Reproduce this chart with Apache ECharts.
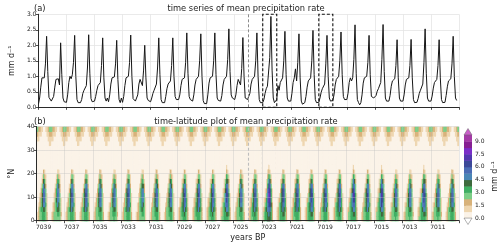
<!DOCTYPE html>
<html><head><meta charset="utf-8">
<script src="https://cdn.jsdelivr.net/npm/echarts@6/dist/echarts.min.js"></script>
<style>html,body{margin:0;padding:0;background:#fff}#c{width:500px;height:249px}</style>
</head><body><div id="c"></div>
<script>
// ---------------- data ----------------
const yearLabels = ['7039','7037','7035','7033','7031','7029','7027','7025','7023','7021','7019','7017','7015','7013','7011'];
const yearLabelPos = [0.5,2.5,4.5,6.5,8.5,10.5,12.5,14.5,16.5,18.5,20.5,22.5,24.5,26.5,28.5];
// monthly mean precipitation (mm/d), one row per model year (left to right)
const monthlyPrecip = [
 [0.10,0.30,0.65,0.95,1.00,0.95,1.40,2.29,1.15,0.32,0.26,0.20],
 [0.20,0.35,0.65,0.90,0.95,0.92,0.72,2.08,1.05,0.30,0.18,0.15],
 [0.16,0.40,0.80,1.00,0.92,1.05,1.45,2.32,1.00,0.25,0.15,0.14],
 [0.15,0.25,0.45,0.55,0.58,0.70,1.30,2.34,1.10,0.28,0.18,0.16],
 [0.20,0.35,0.55,0.70,0.72,0.80,1.35,2.24,0.95,0.30,0.20,0.30],
 [0.18,0.40,0.75,0.95,0.92,0.98,1.40,2.16,0.90,0.25,0.15,0.30],
 [0.16,0.35,0.70,0.95,0.96,1.00,1.45,2.33,1.00,0.28,0.22,0.20],
 [0.20,0.40,0.75,0.90,0.92,0.70,1.20,2.00,0.95,0.30,0.22,0.20],
 [0.18,0.30,0.45,0.55,0.58,0.75,1.30,2.24,1.05,0.25,0.15,0.15],
 [0.15,0.35,0.60,0.75,0.78,0.85,1.35,2.24,1.00,0.35,0.25,0.25],
 [0.25,0.40,0.70,0.90,0.92,0.95,1.45,2.40,1.10,0.35,0.25,0.22],
 [0.20,0.40,0.72,0.90,0.92,1.00,1.50,2.37,1.00,0.22,0.12,0.10],
 [0.12,0.40,0.78,0.95,0.96,1.00,1.50,2.40,1.05,0.30,0.22,0.20],
 [0.20,0.38,0.72,0.90,0.92,1.00,1.55,2.53,1.15,0.40,0.30,0.28],
 [0.25,0.40,0.70,0.90,0.88,0.72,1.25,2.25,1.00,0.30,0.25,0.25],
 [0.25,0.45,0.75,0.90,0.92,1.00,1.50,2.40,1.00,0.25,0.15,0.15],
 [0.15,0.25,0.45,0.60,0.68,0.70,1.60,2.93,1.20,0.30,0.15,0.14],
 [0.25,0.70,0.55,0.80,0.85,0.95,1.50,2.45,1.05,0.30,0.20,0.20],
 [0.20,0.45,0.80,0.95,1.24,0.85,1.45,2.37,0.95,0.20,0.10,0.10],
 [0.15,0.35,0.65,0.85,0.88,0.95,1.50,2.48,1.05,0.25,0.15,0.15],
 [0.16,0.30,0.48,0.60,0.62,0.75,1.40,2.32,1.00,0.30,0.20,0.20],
 [0.22,0.40,0.72,0.90,0.92,1.00,1.50,2.43,1.05,0.35,0.25,0.25],
 [0.25,0.45,0.80,0.95,0.85,0.95,1.55,2.66,1.10,0.25,0.15,0.08],
 [0.15,0.40,0.78,0.95,0.96,1.00,1.45,2.32,1.05,0.35,0.30,0.30],
 [0.28,0.38,0.52,0.60,0.62,0.80,1.55,2.67,1.15,0.30,0.20,0.20],
 [0.20,0.38,0.68,0.85,0.86,0.92,1.35,2.18,0.95,0.30,0.20,0.20],
 [0.20,0.40,0.72,0.90,0.92,0.95,1.35,2.19,0.95,0.25,0.15,0.15],
 [0.16,0.28,0.45,0.55,0.58,0.75,1.45,2.53,1.10,0.30,0.20,0.20],
 [0.20,0.36,0.62,0.80,0.82,0.90,1.35,2.18,0.95,0.25,0.15,0.15],
 [0.16,0.38,0.66,0.85,0.86,0.92,1.40,2.29,1.00,0.30,0.22,0.20]
];
// latitude bands (°N) and their mean seasonal cycle of precipitation (mm/d), Jan..Dec
const latEdges = [0,2,4,6,8,10,12,14,16,18,20,22,24,26,28,30,32,34,36,38,40];
const latClim = [
 [0.45,1.1,2.1,2.6,2.9,3.1,3.3,3.2,2.7,1.6,0.55,0.3],
 [0.4,0.95,2.0,2.6,3.0,3.3,3.7,3.6,2.8,1.7,0.55,0.3],
 [0.3,0.75,1.6,2.5,3.1,3.8,4.6,4.3,3.0,1.5,0.45,0.3],
 [0.2,0.45,1.1,2.2,3.0,4.2,5.3,5.0,3.1,1.3,0.35,0.2],
 [0.2,0.3,0.75,1.6,2.7,4.3,5.8,5.5,3.0,1.0,0.3,0.2],
 [0.1,0.2,0.45,1.1,2.3,4.2,6.1,5.7,2.8,0.8,0.2,0.1],
 [0.1,0.2,0.3,0.7,1.8,3.8,5.8,5.3,2.5,0.65,0.2,0.1],
 [0.1,0.1,0.2,0.45,1.2,3.0,5.1,4.6,2.0,0.5,0.1,0.1],
 [0.1,0.1,0.2,0.3,0.75,2.1,4.0,3.5,1.4,0.4,0.1,0.1],
 [0.1,0.1,0.1,0.2,0.45,1.3,2.8,2.3,0.85,0.3,0.1,0.1],
 [0.1,0.1,0.1,0.2,0.3,0.65,1.6,1.1,0.45,0.2,0.1,0.1],
 [0.2,0.2,0.2,0.2,0.2,0.4,0.7,0.5,0.3,0.2,0.2,0.2],
 [0.3,0.3,0.3,0.25,0.2,0.2,0.3,0.3,0.25,0.25,0.3,0.3],
 [0.35,0.35,0.3,0.3,0.25,0.2,0.2,0.2,0.25,0.3,0.35,0.35],
 [0.45,0.4,0.35,0.3,0.25,0.2,0.2,0.2,0.25,0.3,0.4,0.45],
 [0.6,0.55,0.45,0.35,0.3,0.2,0.2,0.2,0.25,0.35,0.5,0.6],
 [0.8,0.7,0.55,0.4,0.3,0.25,0.2,0.2,0.3,0.4,0.6,0.8],
 [1.3,1.1,0.9,0.7,0.5,0.35,0.3,0.3,0.35,0.55,0.9,1.2],
 [2.0,1.8,1.4,1.1,0.8,0.55,0.4,0.4,0.55,0.85,1.4,1.9],
 [2.6,2.4,1.9,1.5,1.1,0.8,0.55,0.55,0.75,1.1,1.8,2.4]
];
const tropicRows = 12;          // rows whose intensity follows the yearly monsoon peak
const referencePeak = 2.35;     // typical peak of the mean series
const levels = [0,0.75,1.5,2.25,3.0,3.75,4.5,5.25,6.0,6.75,7.5,8.25,9.0,9.75];
const levelColors = ['#fbf3e8','#eed6b0','#d8b27a','#7ccd86','#3fae62','#3e6a3d','#4a86b6','#4b6cb4','#3b4898','#5237ae','#7a2ec8','#861f92','#a33aa6'];
const underColor = '#ffffff';
const overColor = '#c95ec9';
const cbTickValues = [0,1.5,3.0,4.5,6.0,7.5,9.0];
const boxYears = [[16,17],[20,21]];
const refLineYear = 15;

// ---------------- build ----------------
const FONT = 'DejaVu Sans';
function levelColor(v){
  if (v < levels[0]) return underColor;
  for (let i = 0; i < levels.length - 1; i++) if (v < levels[i+1]) return levelColors[i];
  return overColor;
}
const lineData = [];
monthlyPrecip.forEach((row, y) => row.forEach((v, m) => lineData.push([y + m/12, v])));
const cellData = [];
monthlyPrecip.forEach((row, y) => {
  const peak = Math.max.apply(null, row);
  for (let m = 0; m < 12; m++) {
    for (let r = 0; r < latClim.length; r++) {
      const f = r < tropicRows ? peak / referencePeak : 1;
      cellData.push([y + (m - 0.5)/12, y + (m + 0.5)/12, latEdges[r], latEdges[r+1], latClim[r][m] * f]);
    }
  }
});
const cbData = [];
for (let i = 0; i < levels.length - 1; i++) cbData.push([levels[i], levels[i+1], 0, levelColors[i]]);
cbData.push([levels[levels.length-1], levels[levels.length-1] + 0.75, 1, overColor]);
cbData.push([levels[0] - 0.75, levels[0], 2, underColor]);

const chart = echarts.init(document.getElementById('c'), null, {renderer: 'canvas'});
const tickFont = {fontSize: 6, color: '#222', fontFamily: FONT};
const gridLineC = '#e4e4e4';
function frameAxes(gi, isX){
  return {gridIndex: gi, type: 'value', position: isX ? 'top' : 'right', min: 0, max: isX ? 30 : (gi === 0 ? 3 : 40),
    axisLine: {show: true, lineStyle: {color: '#222', width: 0.8}}, axisTick: {show: false}, axisLabel: {show: false}, splitLine: {show: false}, z: 6};
}
const option = {
  animation: false,
  textStyle: {fontFamily: FONT},
  grid: [
    {left: 33, right: 41, top: 14.3, height: 93},
    {left: 33, right: 41, top: 126.7, height: 94},
    {left: 464, width: 8.5, top: 128.5, bottom: 24.5}
  ],
  xAxis: [
    {gridIndex: 0, type: 'value', min: 0, max: 30, interval: 2,
      axisLine: {show: true, onZero: false, lineStyle: {color: '#222', width: 0.8}},
      axisTick: {length: 2.5, lineStyle: {color: '#222', width: 0.8}}, axisLabel: {show: false},
      splitLine: {show: true, lineStyle: {color: gridLineC, width: 0.8}}},
    {gridIndex: 1, type: 'value', min: 0, max: 30, interval: 2, z: 5,
      axisLine: {show: true, onZero: false, lineStyle: {color: '#222', width: 0.8}},
      axisTick: {length: 2.5, lineStyle: {color: '#222', width: 0.8}},
      axisLabel: Object.assign({customValues: yearLabelPos, margin: 4,
        formatter: v => yearLabels[yearLabelPos.indexOf(v)] || ''}, tickFont),
      splitLine: {show: true, lineStyle: {color: 'rgba(190,190,190,0.45)', width: 0.8}},
      name: 'years BP', nameLocation: 'middle', nameGap: 13, nameTextStyle: {fontSize: 8, color: '#222', fontFamily: FONT}},
    {gridIndex: 2, type: 'value', min: 0, max: 1, show: false},
    frameAxes(0, true), frameAxes(1, true)
  ],
  yAxis: [
    {gridIndex: 0, type: 'value', min: 0, max: 3, interval: 0.5,
      axisLine: {show: true, lineStyle: {color: '#222', width: 0.8}},
      axisTick: {show: true, length: 2.5, lineStyle: {color: '#222', width: 0.8}},
      axisLabel: Object.assign({margin: 2, formatter: v => v.toFixed(1)}, tickFont),
      splitLine: {show: true, lineStyle: {color: gridLineC, width: 0.8}},
      name: 'mm d\u207B\u00B9', nameLocation: 'middle', nameGap: 19, nameTextStyle: {fontSize: 8, color: '#222', fontFamily: FONT}},
    {gridIndex: 1, type: 'value', min: 0, max: 40, interval: 10, z: 5,
      axisLine: {show: true, lineStyle: {color: '#222', width: 0.8}},
      axisTick: {show: true, length: 2.5, lineStyle: {color: '#222', width: 0.8}},
      axisLabel: Object.assign({margin: 2}, tickFont),
      splitLine: {show: true, lineStyle: {color: 'rgba(190,190,190,0.45)', width: 0.8}},
      name: '\u00B0N', nameLocation: 'middle', nameGap: 17, nameTextStyle: {fontSize: 8, color: '#222', fontFamily: FONT}},
    {gridIndex: 2, type: 'value', min: -0.75, max: 10.5, position: 'right',
      axisLine: {show: false}, splitLine: {show: false},
      axisTick: {show: true, customValues: cbTickValues, length: 2, lineStyle: {color: '#333', width: 0.6}},
      axisLabel: Object.assign({customValues: cbTickValues, margin: 3, formatter: v => v.toFixed(1)}, tickFont),
      name: 'mm d\u207B\u00B9', nameLocation: 'middle', nameGap: 19, nameRotate: 90,
      nameTextStyle: {fontSize: 8, color: '#222', fontFamily: FONT}},
    frameAxes(0, false), frameAxes(1, false)
  ],
  graphic: [
    {type: 'text', x: 34, y: 8.5, style: {text: '(a)', fontSize: 8.3, fontFamily: FONT, fill: '#222', textAlign: 'left', textVerticalAlign: 'middle'}},
    {type: 'text', x: 246, y: 8.5, style: {text: 'time series of mean precipitation rate', fontSize: 8.3, fontFamily: FONT, fill: '#222', textAlign: 'center', textVerticalAlign: 'middle'}},
    {type: 'text', x: 34, y: 121.5, style: {text: '(b)', fontSize: 8.3, fontFamily: FONT, fill: '#222', textAlign: 'left', textVerticalAlign: 'middle'}},
    {type: 'text', x: 246, y: 121.5, style: {text: 'time-latitude plot of mean precipitation rate', fontSize: 8.3, fontFamily: FONT, fill: '#222', textAlign: 'center', textVerticalAlign: 'middle'}}
  ],
  series: [
    {type: 'line', xAxisIndex: 0, yAxisIndex: 0, data: lineData, showSymbol: false, z: 3,
      lineStyle: {color: '#161616', width: 1}, silent: true,
      markLine: {silent: true, symbol: ['none','none'], label: {show: false},
        lineStyle: {color: '#8c8c8c', type: [3,2], width: 1}, data: [{xAxis: refLineYear}]},
      markArea: {silent: true, label: {show: false},
        itemStyle: {color: 'rgba(0,0,0,0)', borderColor: '#111', borderWidth: 1.1, borderType: [3,2]},
        data: boxYears.map(b => [{xAxis: b[0], yAxis: 0}, {xAxis: b[1], yAxis: 3}])}},
    {type: 'custom', xAxisIndex: 1, yAxisIndex: 1, data: cellData, clip: true, silent: true, z: 2,
      renderItem: function(params, api){
        const p0 = api.coord([api.value(0), api.value(3)]);
        const p1 = api.coord([api.value(1), api.value(2)]);
        return {type: 'rect', shape: {x: p0[0], y: p0[1], width: p1[0]-p0[0]+0.6, height: p1[1]-p0[1]+0.6},
          style: {fill: levelColor(api.value(4))}};
      }},
    {type: 'line', xAxisIndex: 1, yAxisIndex: 1, data: [], z: 3, silent: true,
      markLine: {silent: true, symbol: ['none','none'], label: {show: false},
        lineStyle: {color: '#bdbdbd', type: [3,2], width: 1.1}, data: [{xAxis: refLineYear}]},
      markArea: {silent: true, label: {show: false},
        itemStyle: {color: 'rgba(0,0,0,0)', borderColor: '#ffffff', borderWidth: 2.4},
        data: boxYears.map(b => [{xAxis: b[0], yAxis: 0}, {xAxis: b[1], yAxis: 39.5}])}},
    {type: 'line', xAxisIndex: 1, yAxisIndex: 1, data: [], z: 4, silent: true,
      markArea: {silent: true, label: {show: false},
        itemStyle: {color: 'rgba(0,0,0,0)', borderColor: '#111', borderWidth: 1.1, borderType: [3,2]},
        data: boxYears.map(b => [{xAxis: b[0], yAxis: 0}, {xAxis: b[1], yAxis: 39.5}])}},
    {type: 'custom', xAxisIndex: 2, yAxisIndex: 2, data: cbData, silent: true, clip: false,
      renderItem: function(params, api){
        const lo = api.value(0), hi = api.value(1), kind = api.value(2);
        const fill = cbData[params.dataIndex][3];
        if (kind === 0) {
          const a = api.coord([0, hi]), b = api.coord([1, lo]);
          return {type: 'rect', shape: {x: a[0], y: a[1], width: b[0]-a[0], height: b[1]-a[1]+0.4}, style: {fill: fill}};
        }
        const pts = kind === 1 ? [api.coord([0, lo]), api.coord([1, lo]), api.coord([0.5, hi])]
                               : [api.coord([0, hi]), api.coord([1, hi]), api.coord([0.5, lo])];
        return {type: 'polygon', shape: {points: pts}, style: {fill: fill, stroke: '#666', lineWidth: 0.5}};
      }}
  ]
};
chart.setOption(option);
</script></body></html>
